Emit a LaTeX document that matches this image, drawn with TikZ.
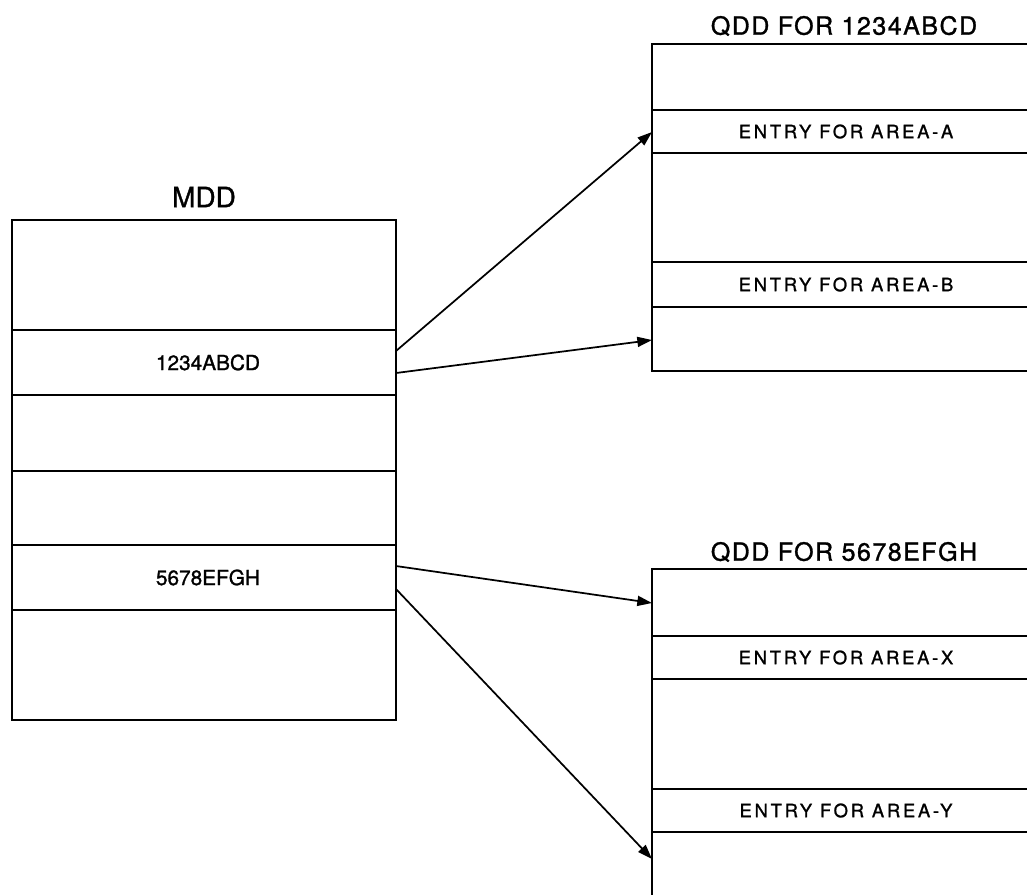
\documentclass[tikz,border=0pt]{standalone}
\usepackage{fontspec}
\setmainfont[FakeBold=1.2]{TeX Gyre Heros}
\newfontfamily\titlefont[LetterSpace=6,FakeBold=1.2]{TeX Gyre Heros}
\newfontfamily\entryfont[LetterSpace=15,FakeBold=1.2]{TeX Gyre Heros}
\usetikzlibrary{arrows.meta}
\begin{document}
\begin{tikzpicture}[x=0.75pt,y=-0.75pt,
  boxline/.style={line width=1.6pt},
  rowline/.style={line width=1.4pt},
  link/.style={line width=1.3pt,-{Triangle[length=11pt,width=7.5pt]}},
  mddtitle/.style={inner sep=0pt,font=\fontsize{21pt}{24pt}\selectfont},
  qddtitle/.style={inner sep=0pt,font=\titlefont\fontsize{18.75pt}{22pt}\selectfont},
  mddlabel/.style={inner sep=0pt,font=\fontsize{15.6pt}{18pt}\selectfont},
  entrylabel/.style={inner sep=0pt,font=\entryfont\fontsize{13.8pt}{16pt}\selectfont}]
\useasboundingbox (0,0) rectangle (1027,894);
\clip (0,0) rectangle (1027,894);
\fill[white] (0,0) rectangle (1027,894);

% MDD
\node[mddtitle] (mddt) at (204,197) {MDD};
\draw[boxline] (12,220) rectangle (396,720);
\foreach \yy in {330,395,471,545,610} \draw[rowline] (12,\yy) -- (396,\yy);
\node[mddlabel] (m1) at (208,362.5) {1234ABCD};
\node[mddlabel] (m2) at (208,577.5) {5678EFGH};

% QDD 1
\node[qddtitle] (q1t) at (844,26) {QDD FOR 1234ABCD};
\draw[boxline] (1040,44) -- (652,44) -- (652,371) -- (1040,371);
\foreach \yy in {110,153,262,307} \draw[rowline] (652,\yy) -- (1040,\yy);
\node[entrylabel] (ea) at (846,131.5) {ENTRY FOR AREA-A};
\node[entrylabel] (eb) at (846,284.5) {ENTRY FOR AREA-B};

% QDD 2
\node[qddtitle] (q2t) at (844,552) {QDD FOR 5678EFGH};
\draw[boxline] (1040,569) -- (652,569) -- (652,900);
\foreach \yy in {636,679,789,832} \draw[rowline] (652,\yy) -- (1040,\yy);
\node[entrylabel] (ex) at (846,657.5) {ENTRY FOR AREA-X};
\node[entrylabel] (ey) at (846,810.5) {ENTRY FOR AREA-Y};

% connector ends
\coordinate (s1) at (396,351);
\coordinate (s2) at (396,373);
\coordinate (s3) at (396,566);
\coordinate (s4) at (396,589);
\coordinate (t1) at (652,132);
\coordinate (t2) at (652,340);
\coordinate (t3) at (652,603);
\coordinate (t4) at (652,859);

\draw[link] (s1) -- (t1);
\draw[link] (s2) -- (t2);
\draw[link] (s3) -- (t3);
\draw[link] (s4) -- (t4);
\end{tikzpicture}
\end{document}
